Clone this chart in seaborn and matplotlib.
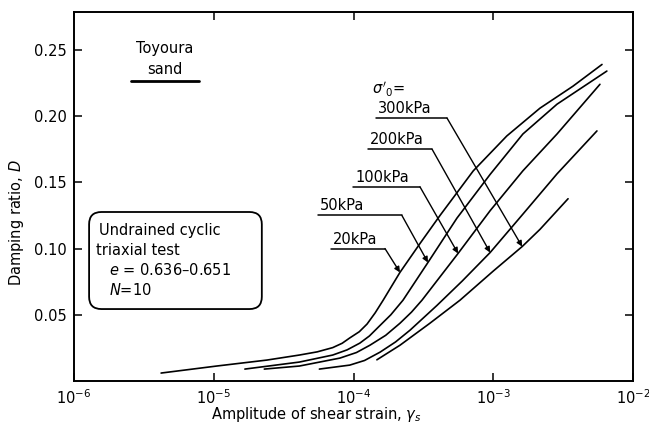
import matplotlib
matplotlib.use("Agg")
import matplotlib.pyplot as plt
from matplotlib.patches import FancyBboxPatch
from matplotlib.ticker import FixedLocator, NullLocator
import pandas as pd
import seaborn as sns

# values (strain amplitude, damping ratio)
pressures = ["20kPa", "50kPa", "100kPa", "200kPa", "300kPa"]

strain_20 = [4.2e-6, 1.05e-5, 2.4e-5, 4.1e-5, 5.5e-5, 7.1e-5, 8.3e-5, 9.4e-5, 1.1e-4,
             1.25e-4, 1.43e-4, 1.63e-4, 2.15e-4, 3.0e-4, 4.16e-4, 7.2e-4, 1.25e-3,
             2.16e-3, 3.72e-3, 6.0e-3]
damp_20 = [0.006, 0.0113, 0.0158, 0.0196, 0.022, 0.0252, 0.0285, 0.0325, 0.0372,
           0.043, 0.0515, 0.061, 0.082, 0.104, 0.125, 0.1587, 0.185,
           0.206, 0.2226, 0.239]

strain_50 = [1.67e-5, 4.1e-5, 7.1e-5, 9.0e-5, 1.11e-4, 1.3e-4, 1.55e-4, 1.85e-4,
             2.26e-4, 3.41e-4, 5.5e-4, 9.5e-4, 1.63e-3, 2.86e-3, 6.5e-3]
damp_50 = [0.009, 0.0143, 0.0196, 0.0235, 0.0286, 0.034, 0.042, 0.050,
           0.061, 0.0895, 0.123, 0.156, 0.1865, 0.209, 0.234]

strain_100 = [2.3e-5, 4.1e-5, 8.0e-5, 1.05e-4, 1.31e-4, 1.7e-4, 2.15e-4, 2.6e-4,
              3.09e-4, 5.6e-4, 9.5e-4, 1.63e-3, 2.86e-3, 5.8e-3]
damp_100 = [0.009, 0.0113, 0.0173, 0.0215, 0.027, 0.0345, 0.0436, 0.052,
            0.061, 0.0963, 0.1286, 0.1587, 0.1865, 0.224]

strain_200 = [5.7e-5, 9.4e-5, 1.2e-4, 1.55e-4, 2.0e-4, 2.54e-4, 3.95e-4, 6.0e-4,
              9.5e-4, 1.63e-3, 2.86e-3, 5.52e-3]
damp_200 = [0.009, 0.012, 0.0155, 0.0218, 0.0295, 0.0384, 0.057, 0.0755,
            0.097, 0.126, 0.1564, 0.1888]

strain_300 = [1.47e-4, 2.15e-4, 3.52e-4, 5.78e-4, 1.0e-3, 1.61e-3, 2.16e-3, 3.43e-3]
damp_300 = [0.016, 0.027, 0.0436, 0.061, 0.083, 0.1015, 0.1145, 0.1376]

x_ticks = [1e-6, 1e-5, 1e-4, 1e-3, 1e-2]
y_ticks = [0.05, 0.10, 0.15, 0.20, 0.25]

curves = {
    "20kPa": (strain_20, damp_20),
    "50kPa": (strain_50, damp_50),
    "100kPa": (strain_100, damp_100),
    "200kPa": (strain_200, damp_200),
    "300kPa": (strain_300, damp_300),
}
df = pd.concat(
    [pd.DataFrame({"strain": s, "D": d, "pressure": p}) for p, (s, d) in curves.items()],
    ignore_index=True,
)

sns.set_style("ticks")
plt.rcParams["font.family"] = ["DejaVu Sans"]
plt.rcParams["mathtext.fontset"] = "dejavusans"
for key in ["text.color", "axes.labelcolor", "xtick.color", "ytick.color", "axes.edgecolor"]:
    plt.rcParams[key] = "black"
FS = 10.5

fig = plt.figure(figsize=(6.49, 4.26), dpi=100)
ax = fig.add_axes([74 / 649, 45 / 426, 559 / 649, 369 / 426])

sns.lineplot(data=df, x="strain", y="D", hue="pressure", units="pressure",
             estimator=None, palette={p: "black" for p in pressures},
             linewidth=1.2, legend=False, ax=ax)

ax.set_xscale("log")
ax.set_xlim(1e-6, 1e-2)
ax.set_ylim(0, 0.2786)
ax.xaxis.set_major_locator(FixedLocator(x_ticks))
ax.xaxis.set_minor_locator(NullLocator())
ax.set_yticks(y_ticks)
ax.set_yticklabels([f"{v:.2f}" for v in y_ticks])
ax.tick_params(direction="in", length=6, width=1.1, top=True, right=True,
               labelsize=FS, pad=5)
for sp in ax.spines.values():
    sp.set_linewidth(1.4)

ax.set_xlabel(r"Amplitude of shear strain, $\gamma_s$", fontsize=FS)
ax.xaxis.set_label_coords(0.433, -0.065)
ax.set_ylabel(r"Damping ratio, $D$", fontsize=FS)
ax.yaxis.set_label_coords(-0.085, 0.43)

# sample description
ax.text(0.163, 0.9, "Toyoura", transform=ax.transAxes, ha="center", va="center", fontsize=FS)
ax.text(0.163, 0.843, "sand", transform=ax.transAxes, ha="center", va="center", fontsize=FS)
ax.plot([0.102, 0.224], [0.813, 0.813], transform=ax.transAxes, color="black", lw=2)

box = FancyBboxPatch((0.027, 0.195), 0.309, 0.263, transform=ax.transAxes,
                     boxstyle="round,pad=0,rounding_size=0.022",
                     mutation_aspect=559 / 369, facecolor="none",
                     edgecolor="black", linewidth=1.3)
ax.add_patch(box)
ax.text(0.045, 0.409, "Undrained cyclic", transform=ax.transAxes, va="center", fontsize=FS)
ax.text(0.040, 0.355, "triaxial test", transform=ax.transAxes, va="center", fontsize=FS)
ax.text(0.062, 0.301, r"$e$ = 0.636–0.651", transform=ax.transAxes, va="center", fontsize=FS)
ax.text(0.062, 0.247, r"$N$=10", transform=ax.transAxes, va="center", fontsize=FS)

# pressure labels with leader arrows
ax.text(1.35e-4, 0.2204, r"$\sigma'_0$=", ha="left", va="center", fontsize=FS)
leaders = [
    ("300kPa", 1.5e-4, 4.67e-4, 0.1985, 1.61e-3, 0.1015),
    ("200kPa", 1.31e-4, 3.65e-4, 0.175, 9.5e-4, 0.097),
    ("100kPa", 1.03e-4, 2.99e-4, 0.1466, 5.6e-4, 0.0963),
    ("50kPa", 5.75e-5, 2.22e-4, 0.125, 3.41e-4, 0.0895),
    ("20kPa", 7.1e-5, 1.68e-4, 0.100, 2.15e-4, 0.082),
]
for lab, x0, x1, yu, xt, yt in leaders:
    ax.text(x0, yu + 0.0015, lab, ha="left", va="bottom", fontsize=FS)
    ax.plot([x0 * 0.97, x1], [yu, yu], color="black", lw=1.1)
    ax.annotate("", xy=(xt, yt), xytext=(x1, yu),
                arrowprops=dict(arrowstyle="-|>", color="black", lw=1.0,
                                mutation_scale=8, shrinkA=0, shrinkB=0))

fig.savefig("out.png", dpi=100)
